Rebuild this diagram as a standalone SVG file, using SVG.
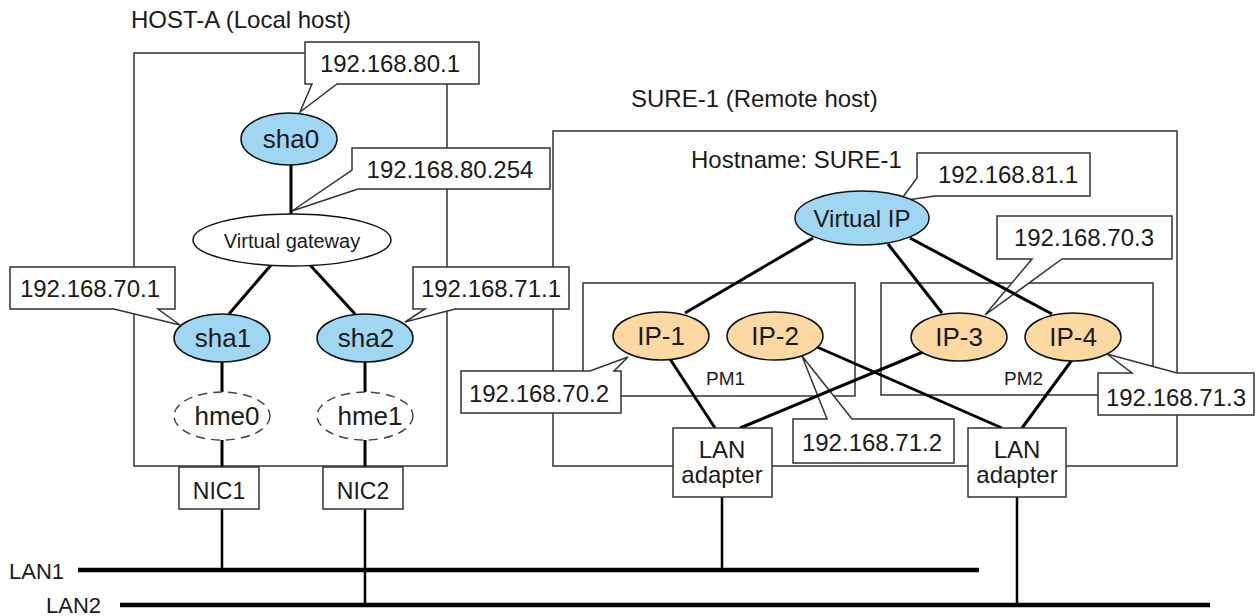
<svg xmlns="http://www.w3.org/2000/svg" width="1256" height="616" viewBox="0 0 1256 616">
<style>
text{font-family:"Liberation Sans",Arial,sans-serif;fill:#1a1a1a}
.t{font-size:24px}
.e{font-size:26px;text-anchor:middle}
.c{font-size:24px;text-anchor:middle}
.box{fill:none;stroke:#333;stroke-width:1.5}
.wbox{fill:#fff;stroke:#333;stroke-width:1.5}
.callout{fill:#fff;stroke:#333;stroke-width:1.5;stroke-linejoin:miter}
.conn{stroke:#000;stroke-width:3;fill:none}
.thin{stroke:#000;stroke-width:2.5;fill:none}
.lan{stroke:#000;stroke-width:4.5}
.blue{fill:#9fd6f2;stroke:#111;stroke-width:1.5}
.peach{fill:#fcd8a2;stroke:#111;stroke-width:1.5}
.white{fill:#fff;stroke:#111;stroke-width:1.5}
.dash{fill:#fff;stroke:#444;stroke-width:1.5;stroke-dasharray:9 6}
</style>

<!-- containers -->
<g id="host-a">
<rect class="box" x="134" y="53" width="313" height="413"/>
<text class="t" x="131" y="28">HOST-A (Local host)</text>
</g>
<g id="sure-1">
<rect class="box" x="553" y="131" width="624" height="335"/>
<text class="t" x="631" y="107">SURE-1 (Remote host)</text>
<text class="t" x="691" y="168">Hostname: SURE-1</text>
</g>
<g id="pm1">
<rect class="box" x="583" y="283" width="272" height="113"/>
<text x="706" y="385" font-size="19">PM1</text>
</g>
<g id="pm2">
<rect class="box" x="881" y="283" width="272" height="112"/>
<text x="1004" y="385" font-size="19">PM2</text>
</g>

<!-- callouts -->
<g id="callout-80-1">
<path class="callout" d="M305,42 H479 V84 H337 L300,112 L312,84 H305 Z"/>
<text class="c" x="390" y="72">192.168.80.1</text>
</g>
<g id="callout-80-254">
<path class="callout" d="M352,148 H550 V189 H358 L292,211 L352,170 Z"/>
<text class="c" x="450" y="178">192.168.80.254</text>
</g>
<g id="callout-70-1">
<path class="callout" d="M10,267 H175 V309 H158 L180,325 L114,309 H10 Z"/>
<text class="c" x="90" y="297">192.168.70.1</text>
</g>
<g id="callout-71-1">
<path class="callout" d="M413,267 H569 V309 H455 L405,322 L425,309 H413 Z"/>
<text class="c" x="491" y="297">192.168.71.1</text>
</g>
<g id="callout-81-1">
<path class="callout" d="M917,153 H1090 V196 H935 L900,201 L917,178 Z"/>
<text class="c" x="1008" y="183">192.168.81.1</text>
</g>
<g id="callout-70-3">
<path class="callout" d="M997,216 H1172 V259 H1062 L985,315 L1032,259 H997 Z"/>
<text class="c" x="1084" y="246">192.168.70.3</text>
</g>
<g id="callout-71-3">
<path class="callout" d="M1098,373 H1132 L1107,354 L1177,373 H1254 V415 H1098 Z"/>
<text class="c" x="1176" y="406">192.168.71.3</text>
</g>
<g id="callout-70-2">
<path class="callout" d="M461,371 H590 L628,357 L614,371 H621 V413 H461 Z"/>
<text class="c" x="539" y="402">192.168.70.2</text>
</g>
<g id="callout-71-2">
<path class="callout" d="M793,419 H827 L802,356 L852,419 H954 V463 H793 Z"/>
<text class="c" x="872" y="451">192.168.71.2</text>
</g>

<!-- connectors -->
<g id="connectors">
<line class="conn" x1="291" y1="165" x2="291" y2="214"/>
<line class="conn" x1="271" y1="265" x2="229" y2="314"/>
<line class="conn" x1="310" y1="265" x2="355" y2="314"/>
<line class="conn" x1="222" y1="362" x2="222" y2="392"/>
<line class="conn" x1="365" y1="362" x2="365" y2="392"/>
<line class="conn" x1="222" y1="440" x2="222" y2="467"/>
<line class="conn" x1="365" y1="440" x2="365" y2="467"/>
<line class="thin" x1="222" y1="509" x2="222" y2="570"/>
<line class="thin" x1="365" y1="509" x2="365" y2="605"/>
<line class="conn" x1="813" y1="238" x2="685" y2="313"/>
<line class="conn" x1="888" y1="244" x2="942" y2="313"/>
<line class="conn" x1="910" y1="238" x2="1052" y2="314"/>
<line class="conn" x1="670" y1="359" x2="715" y2="428"/>
<line class="conn" x1="923" y1="352" x2="740" y2="428"/>
<line class="conn" x1="817" y1="347" x2="1002" y2="428"/>
<line class="conn" x1="1072" y1="360" x2="1022" y2="428"/>
<line class="thin" x1="722" y1="497" x2="722" y2="570"/>
<line class="thin" x1="1017" y1="497" x2="1017" y2="605"/>
<line class="lan" x1="78" y1="570" x2="979" y2="570"/>
<line class="lan" x1="120" y1="605" x2="1210" y2="605"/>
</g>

<!-- nodes -->
<g id="sha0">
<ellipse class="blue" cx="289" cy="139" rx="48" ry="26"/>
<text class="e" x="291" y="148">sha0</text>
</g>
<g id="virtual-gateway">
<ellipse class="white" cx="292" cy="240" rx="99" ry="26"/>
<text x="292" y="248" font-size="20" text-anchor="middle">Virtual gateway</text>
</g>
<g id="sha1">
<ellipse class="blue" cx="222" cy="338" rx="48" ry="24"/>
<text class="e" x="223" y="347">sha1</text>
</g>
<g id="sha2">
<ellipse class="blue" cx="365" cy="338" rx="48" ry="24"/>
<text class="e" x="366" y="347">sha2</text>
</g>
<g id="hme0">
<ellipse class="dash" cx="222" cy="416" rx="48" ry="24"/>
<text class="e" x="227" y="425">hme0</text>
</g>
<g id="hme1">
<ellipse class="dash" cx="365" cy="416" rx="48" ry="24"/>
<text class="e" x="370" y="425">hme1</text>
</g>
<g id="nic1">
<rect class="wbox" x="179" y="467" width="80" height="42"/>
<text x="219" y="499" font-size="23" text-anchor="middle">NIC1</text>
</g>
<g id="nic2">
<rect class="wbox" x="323" y="467" width="80" height="42"/>
<text x="363" y="499" font-size="23" text-anchor="middle">NIC2</text>
</g>
<g id="virtual-ip">
<ellipse class="blue" cx="862" cy="218" rx="67" ry="27"/>
<text class="c" x="862" y="227">Virtual IP</text>
</g>
<g id="ip-1">
<ellipse class="peach" cx="661" cy="336" rx="48" ry="24"/>
<text class="e" x="661" y="345">IP-1</text>
</g>
<g id="ip-2">
<ellipse class="peach" cx="775" cy="336" rx="48" ry="24"/>
<text class="e" x="775" y="345">IP-2</text>
</g>
<g id="ip-3">
<ellipse class="peach" cx="959" cy="337" rx="48" ry="24"/>
<text class="e" x="959" y="346">IP-3</text>
</g>
<g id="ip-4">
<ellipse class="peach" cx="1073" cy="337" rx="48" ry="24"/>
<text class="e" x="1073" y="346">IP-4</text>
</g>
<g id="lan-adapter-1">
<rect class="wbox" x="673" y="428" width="99" height="69"/>
<text class="c" x="722" y="458">LAN</text>
<text class="c" x="722" y="483">adapter</text>
</g>
<g id="lan-adapter-2">
<rect class="wbox" x="968" y="428" width="98" height="69"/>
<text class="c" x="1017" y="458">LAN</text>
<text class="c" x="1017" y="483">adapter</text>
</g>
<g id="lan1">
<text x="9" y="579" font-size="22">LAN1</text>
</g>
<g id="lan2">
<text x="46" y="613" font-size="22">LAN2</text>
</g>
</svg>
